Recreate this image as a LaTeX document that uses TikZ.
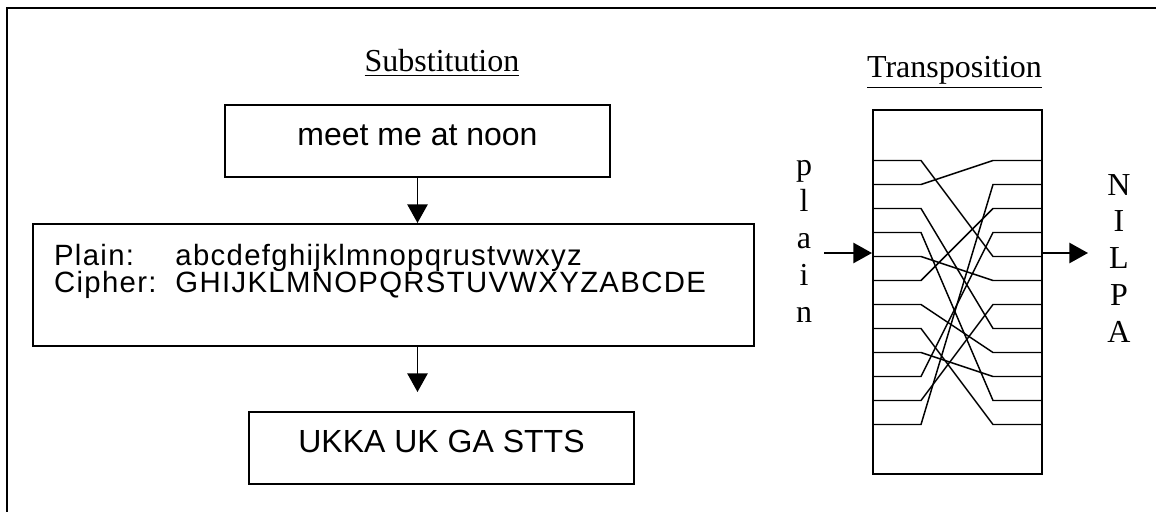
\documentclass[tikz,border=0pt]{standalone}
\usepackage{fontspec}
\setmainfont{Liberation Serif}
\newfontfamily\arialfont{Liberation Sans}
\newfontfamily\keyfont[LetterSpace=4.5]{Liberation Sans}
\usetikzlibrary{arrows.meta, positioning}

\begin{document}
\begin{tikzpicture}[x=0.375pt,y=-0.375pt,>={Triangle[length=7pt,width=7.6pt]},
        every node/.style={font=\fontsize{12}{13.8}\selectfont},
        wordbox/.style={draw,line width=0.75pt,minimum width=144.4pt,minimum height=27pt,inner sep=0pt,
                font=\arialfont\fontsize{12}{14}\selectfont,text height=8pt,text depth=4.6pt},
        keybox/.style={draw,line width=0.75pt,minimum width=270.4pt,minimum height=45.75pt,inner sep=0pt},
        keyrow/.style={anchor=base west,inner sep=0pt,font=\keyfont\fontsize{11}{13}\selectfont},
        title/.style={anchor=base,inner sep=0pt},
        letter/.style={anchor=base,inner sep=0pt},
        wire/.style={line width=0.55pt},
        flow/.style={->,line width=0.7pt}]

        \useasboundingbox (0,0) rectangle (1156,511);
        \draw[line width=0.8pt] (7,520) |- (1165,8);

        % substitution
        \node[title] (subst) at (442,71) {\underline{Substitution}};
        \node[wordbox] (msg) at (417.5,141) {meet me at noon};
        \node[keybox] (key) at (393.5,285) {};
        \node[keyrow] (plainrow) at (53.6,265) {\makebox[45.5pt][l]{Plain:}abcdefghijklmnopqrustvwxyz};
        \node[keyrow,below=10.2pt of plainrow.base west,anchor=base west] (cipherrow)
                {\makebox[45.5pt][l]{Cipher:}GHIJKLMNOPQRSTUVWXYZABCDE};
        \node[wordbox] (ctext) at (441.5,447.5) {UKKA UK GA STTS};
        \coordinate (ctip) at (417.5,392);

        \draw[flow] (msg.south) -- (msg.south |- key.north);
        \draw[flow] (key.south -| ctip) -- (ctip);

        % transposition
        \node[title] (transp) at (954.5,77) {\underline{Transposition}};
        \node[draw,line width=0.75pt,minimum width=63.4pt,minimum height=136.5pt,inner sep=0pt] (tbox) at (957.5,292) {};
        \foreach \a/\b in {1/5,2/1,3/8,4/11,5/6,6/3,7/9,8/12,9/10,10/4,11/7,12/2}
            \draw[wire] (873,{136.5+24*\a}) -- (921,{136.5+24*\a}) -- (993,{136.5+24*\b}) -- (1042,{136.5+24*\b});

        \foreach \ch [count=\i] in {p,l,a,i,n}
            \node[letter] (in\i) at (804,{138.2+36.8*\i}) {\ch};
        \foreach \ch [count=\i] in {N,I,L,P,A}
            \node[letter] (out\i) at (1119,{158.2+36.8*\i}) {\ch};

        \coordinate (plainin) at (824,253);
        \coordinate (cipherout) at (1088,253);
        \draw[flow] (plainin) -- (plainin -| tbox.west);
        \draw[flow] (cipherout -| tbox.east) -- (cipherout);
\end{tikzpicture}
\end{document}
